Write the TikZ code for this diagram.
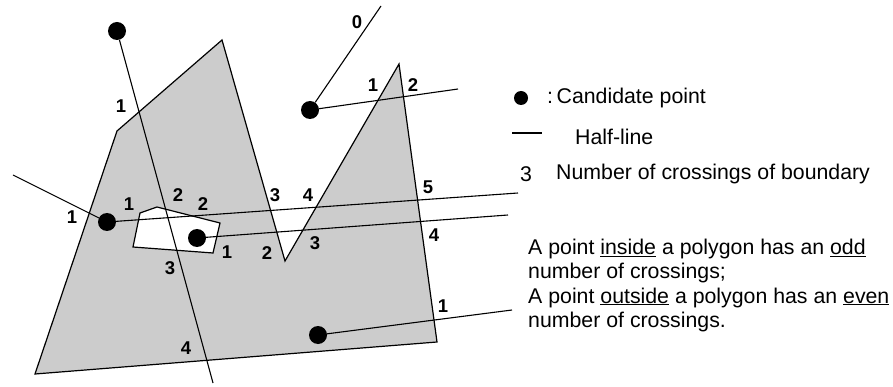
\documentclass[tikz,border=0pt]{standalone}
\usepackage{fontspec}
\setmainfont{Liberation Sans}

\begin{document}
\begin{tikzpicture}[x=1pt,y=-1pt,
  cand/.style={circle,fill=black,inner sep=0pt,minimum size=18pt},
  hline/.style={line width=1.1pt},
  cnt/.style={font=\fontsize{18.5}{18.5}\selectfont\bfseries,inner sep=1pt},
  txt/.style={font=\fontsize{21.3}{24.2}\selectfont,inner sep=0pt}]
  \useasboundingbox (0,0) rectangle (893,387);

  % polygon with a hole
  \filldraw[fill=black!20,line width=1.2pt,even odd rule]
    (35,374)--(117,131)--(222,40)--(285,261)--(399,64)--(437,342)--cycle
    (140,213)--(157,207)--(220,223)--(213,253)--(133,247)--cycle;

  % candidate points
  \node[cand] (ptTop) at (117,31) {};
  \node[cand] (ptOut) at (310,110) {};
  \node[cand] (ptLeft) at (107,222) {};
  \node[cand] (ptHole) at (197,238) {};
  \node[cand] (ptLow) at (318,335) {};

  % ends of the half-lines
  \coordinate (eTop) at (213,383);
  \coordinate (eZero) at (381,6);
  \coordinate (eOut) at (458,89);
  \coordinate (eLeftW) at (13,175);
  \coordinate (eLeftE) at (518,193);
  \coordinate (eHole) at (508,215);
  \coordinate (eLow) at (512,310);

  \draw[hline] (ptTop) -- (eTop);
  \draw[hline] (ptOut) -- (eZero);
  \draw[hline] (ptOut) -- (eOut);
  \draw[hline] (ptLeft) -- (eLeftW);
  \draw[hline] (ptLeft) -- (eLeftE);
  \draw[hline] (ptHole) -- (eHole);
  \draw[hline] (ptLow) -- (eLow);

  % crossing counts
  \node[cnt] (nTopA) at (121,106) {1};
  \node[cnt] (nTopB) at (178,195) {2};
  \node[cnt] (nTopC) at (170,268) {3};
  \node[cnt] (nTopD) at (186,348) {4};
  \node[cnt] (nZero) at (357,22) {0};
  \node[cnt] (nOutA) at (373,85) {1};
  \node[cnt] (nOutB) at (413,85) {2};
  \node[cnt] (nWest) at (72,217) {1};
  \node[cnt] (nLeftA) at (129,204) {1};
  \node[cnt] (nLeftB) at (203,204) {2};
  \node[cnt] (nLeftC) at (275,195) {3};
  \node[cnt] (nLeftD) at (308,195) {4};
  \node[cnt] (nLeftE) at (428,187) {5};
  \node[cnt] (nHoleA) at (227,252) {1};
  \node[cnt] (nHoleB) at (267,253) {2};
  \node[cnt] (nHoleC) at (315,243) {3};
  \node[cnt] (nHoleD) at (434,235) {4};
  \node[cnt] (nLowA) at (443,306) {1};

  % legend
  \node[circle,fill=black,inner sep=0pt,minimum size=14pt] (keyDot) at (521,98) {};
  \node[txt,anchor=west] (keyDotText) at (547,98) {:\,Candidate point};
  \coordinate (keyLineA) at (512,133);
  \coordinate (keyLineB) at (542,133);
  \draw[hline] (keyLineA) -- (keyLineB);
  \node[txt,anchor=west] (keyLineText) at (575,137) {Half-line};
  \node[txt] (keyNum) at (526,174) {3};
  \node[txt,anchor=west] (keyNumText) at (556,174) {Number of crossings of boundary};

  \node[txt,anchor=north west,align=left] (rule) at (528,239)
    {A point \underline{inside} a polygon has an \underline{odd}\\
     number of crossings;\\
     A point \underline{outside} a polygon has an \underline{even}\\
     number of crossings.};
\end{tikzpicture}
\end{document}
